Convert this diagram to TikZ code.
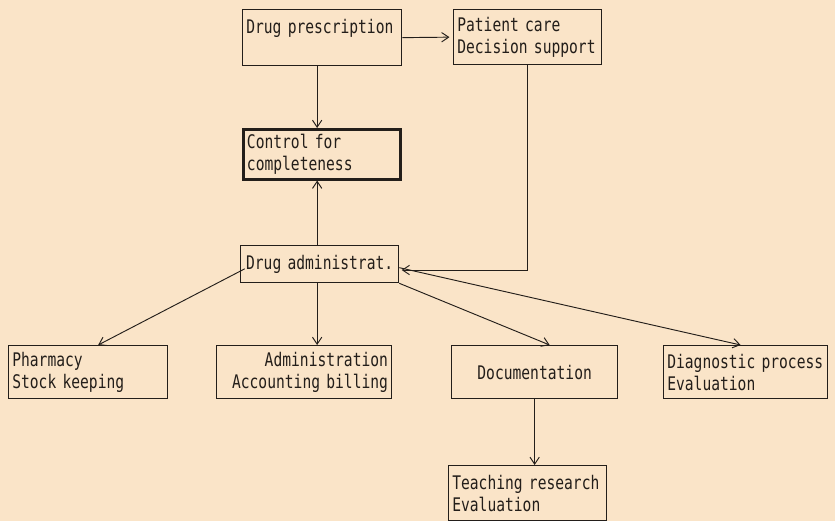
\documentclass[tikz,border=0pt]{standalone}
\usepackage{fontspec}
\usepackage{tikz}
\usetikzlibrary{arrows.meta}
\newfontfamily\plotfont[FakeStretch=0.78]{DejaVu Sans Mono}
\definecolor{paper}{RGB}{250,228,200}
\definecolor{ink}{RGB}{35,30,26}

\begin{document}
\begin{tikzpicture}[x=0.03cm, y=-0.03cm,
    box/.style={draw=ink, line width=1.1pt, anchor=north west, inner xsep=0.11cm,
        font=\plotfont\fontsize{16}{19}\selectfont, text=ink, align=left},
    arr/.style={draw=ink, line width=0.8pt, -{Straight Barb[length=6pt,width=8pt]}}]
                % Paper
                \fill[paper] (0,0) rectangle (835,521);
                \useasboundingbox (0,0) rectangle (835,521);

                % Top row
                \node[box, text width=4.55cm, minimum height=1.68cm] (presc) at (242,9) {Drug prescription\\ ~};
                \node[box, text width=4.22cm, minimum height=1.65cm] (care) at (453,9) {Patient care\\Decision support};

                % Control
                \node[box, line width=2.2pt, text width=4.49cm, minimum height=1.5cm] (ctrl) at (242,128) {Control for\\completeness};

                % Administration of drugs
                \node[box, text width=4.52cm, minimum height=1.11cm, align=center] (admin) at (240,245) {Drug administrat.};

                % Bottom row
                \node[box, text width=4.55cm, minimum height=1.59cm] (pharm) at (8,345) {Pharmacy\\Stock keeping};
                \node[box, text width=5.03cm, minimum height=1.59cm, align=right] (accnt) at (216,345) {Administration\\Accounting billing};
                \node[box, text width=4.76cm, minimum height=1.59cm, align=center] (docu) at (451,345) {Documentation};
                \node[box, text width=4.70cm, minimum height=1.59cm] (diag) at (663,345) {Diagnostic process\\Evaluation};
                \node[box, text width=4.52cm, minimum height=1.65cm] (teach) at (448,465) {Teaching research\\Evaluation};

                % Connectors
                \coordinate (mid) at ([xshift=-0.15cm]presc.south);
                \draw[arr] (presc.east) -- ([xshift=-3pt]care.west);
                \draw[arr] (mid) -- (mid |- ctrl.north);
                \draw[arr] (mid |- admin.north) -- (mid |- ctrl.south);
                \draw[arr] (care.south) |- ([xshift=2pt,yshift=-5pt]admin.east);
                \draw[arr] ([xshift=4pt,yshift=-4pt]admin.west) -- ([xshift=0.3cm]pharm.north);
                \draw[arr] (mid |- admin.south) -- (mid |- accnt.north);
                \draw[arr] (admin.south east) -- ([xshift=0.45cm]docu.north);
                \draw[arr] ([yshift=-3pt]admin.east) -- ([xshift=-0.15cm]diag.north);
                \draw[arr] (docu.south) -- (docu.south |- teach.north);
            \end{tikzpicture}
\end{document}
